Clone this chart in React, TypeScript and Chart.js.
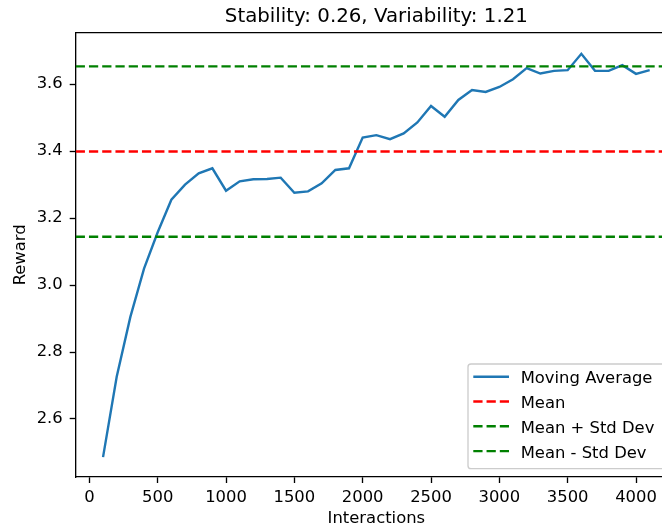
import React, { useEffect, useRef } from "react";
import { Chart, registerables } from "chart.js";

Chart.register(...registerables);

const interactions = [
  100, 200, 300, 400, 500, 600, 700, 800, 900, 1000,
  1100, 1200, 1300, 1400, 1500, 1600, 1700, 1800, 1900, 2000,
  2100, 2200, 2300, 2400, 2500, 2600, 2700, 2800, 2900, 3000,
  3100, 3200, 3300, 3400, 3500, 3600, 3700, 3800, 3900, 4000, 4100,
];
const movingAverage = [
  2.486, 2.726, 2.905, 3.049, 3.158, 3.255, 3.300, 3.334, 3.349, 3.282,
  3.310, 3.316, 3.317, 3.321, 3.276, 3.280, 3.304, 3.344, 3.349, 3.441,
  3.448, 3.436, 3.453, 3.486, 3.535, 3.503, 3.553, 3.583, 3.577, 3.592,
  3.615, 3.648, 3.632, 3.640, 3.642, 3.691, 3.640, 3.640, 3.657, 3.631, 3.642,
];
const meanValue = 3.399;
const stdValue = 0.2545;
const xRange = [-100, 4300];
const yRange = [2.4267, 3.754];
const xTicks = [0, 500, 1000, 1500, 2000, 2500, 3000, 3500, 4000];
const yTicks = [2.6, 2.8, 3.0, 3.2, 3.4, 3.6];
const titleText = "Stability: 0.26, Variability: 1.21";
const xLabel = "Interactions";
const yLabel = "Reward";
const legendLabels = ["Moving Average", "Mean", "Mean + Std Dev", "Mean - Std Dev"];
const seriesColors = ["#1f77b4", "#ff0000", "#008000", "#008000"];

const FONT = "'DejaVu Sans', 'Liberation Sans', sans-serif";
const SMALL = 16.4;
const TITLE = 19.8;
const DASH = [9.25, 4.0];
const LW = 2.4;
const SPINE = 1.33;

const decorPlugin = {
  id: "decor",
  afterDatasetsDraw(chart: any) {
    const { ctx, chartArea: a } = chart;
    ctx.save();
    // top and right spines
    ctx.strokeStyle = "#000";
    ctx.lineWidth = SPINE;
    ctx.setLineDash([]);
    ctx.beginPath();
    ctx.moveTo(a.left, a.top);
    ctx.lineTo(a.right, a.top);
    ctx.lineTo(a.right, a.bottom);
    ctx.stroke();

    // title
    ctx.fillStyle = "#000";
    ctx.font = `${TITLE}px ${FONT}`;
    ctx.textAlign = "center";
    ctx.textBaseline = "alphabetic";
    ctx.fillText(titleText, (a.left + a.right) / 2, 21.7);

    // legend
    const lw = 200.7;
    const lh = 104.7;
    const lx = a.right - 8.3 - lw;
    const ly = a.bottom - 8.3 - lh;
    ctx.beginPath();
    if (ctx.roundRect) ctx.roundRect(lx, ly, lw, lh, 3);
    else ctx.rect(lx, ly, lw, lh);
    ctx.fillStyle = "rgba(255,255,255,0.8)";
    ctx.fill();
    ctx.strokeStyle = "#cccccc";
    ctx.lineWidth = SPINE;
    ctx.stroke();

    ctx.font = `${SMALL}px ${FONT}`;
    ctx.textAlign = "left";
    legendLabels.forEach((label, i) => {
      const cy = ly + 12.7 + i * 24.8;
      ctx.strokeStyle = seriesColors[i];
      ctx.lineWidth = LW;
      ctx.setLineDash(i === 0 ? [] : DASH);
      ctx.beginPath();
      ctx.moveTo(lx + 5.3, cy);
      ctx.lineTo(lx + 41, cy);
      ctx.stroke();
      ctx.fillStyle = "#000";
      ctx.fillText(label, lx + 52.7, cy + 6.6);
    });
    ctx.restore();
  },
};

function hline(value: number, color: string) {
  return {
    label: "",
    data: [
      { x: xRange[0], y: value },
      { x: xRange[1], y: value },
    ],
    borderColor: color,
    borderWidth: LW,
    borderDash: DASH,
    pointRadius: 0,
    order: 0,
  };
}

export default function App() {
  const ref = useRef<HTMLCanvasElement>(null);

  useEffect(() => {
    if (!ref.current) return;
    Chart.defaults.font.family = FONT;
    Chart.defaults.color = "#000";
    const chart = new Chart(ref.current, {
      type: "line",
      data: {
        datasets: [
          {
            label: legendLabels[0],
            data: interactions.map((x, i) => ({ x, y: movingAverage[i] })),
            borderColor: seriesColors[0],
            borderWidth: LW,
            pointRadius: 0,
            tension: 0,
            order: 1,
          } as any,
          hline(meanValue, seriesColors[1]),
          hline(meanValue + stdValue, seriesColors[2]),
          hline(meanValue - stdValue, seriesColors[3]),
        ],
      },
      options: {
        animation: false,
        responsive: false,
        events: [],
        layout: { padding: { left: 0, top: 32.7, right: 23, bottom: 0 } },
        plugins: {
          legend: { display: false },
          title: { display: false },
          tooltip: { enabled: false },
        },
        scales: {
          x: {
            type: "linear",
            min: xRange[0],
            max: xRange[1],
            afterBuildTicks: (s: any) => {
              s.ticks = xTicks.map((v) => ({ value: v }));
            },
            afterFit: (s: any) => {
              s.height = 55;
            },
            grid: {
              drawOnChartArea: false,
              drawTicks: true,
              tickLength: 6,
              tickColor: "#000",
              tickWidth: SPINE,
            },
            border: { display: true, color: "#000", width: SPINE },
            ticks: {
              color: "#000",
              font: { size: SMALL, family: FONT },
              padding: 5.4,
              maxRotation: 0,
              autoSkip: false,
              callback: (v: any) => String(v),
            },
            title: {
              display: true,
              text: xLabel,
              color: "#000",
              font: { size: SMALL, family: FONT },
              padding: { top: 0, bottom: 3.2 },
            },
          },
          y: {
            type: "linear",
            min: yRange[0],
            max: yRange[1],
            afterBuildTicks: (s: any) => {
              s.ticks = yTicks.map((v) => ({ value: v }));
            },
            afterFit: (s: any) => {
              s.width = 75.7;
            },
            grid: {
              drawOnChartArea: false,
              drawTicks: true,
              tickLength: 6,
              tickColor: "#000",
              tickWidth: SPINE,
            },
            border: { display: true, color: "#000", width: SPINE },
            ticks: {
              color: "#000",
              font: { size: SMALL, family: FONT },
              padding: 7,
              autoSkip: false,
              callback: (v: any) => Number(v).toFixed(1),
            },
            title: {
              display: true,
              text: yLabel,
              color: "#000",
              font: { size: SMALL, family: FONT },
              padding: { top: 11.2, bottom: 0 },
            },
          },
        },
      },
      plugins: [decorPlugin],
    } as any);
    return () => chart.destroy();
  }, []);

  return (
    <div
      style={{
        position: "fixed",
        left: 0,
        top: 0,
        width: 662,
        height: 532,
        overflow: "hidden",
        background: "#fff",
      }}
    >
      <canvas ref={ref} width={700} height={532} style={{ display: "block" }} />
    </div>
  );
}
